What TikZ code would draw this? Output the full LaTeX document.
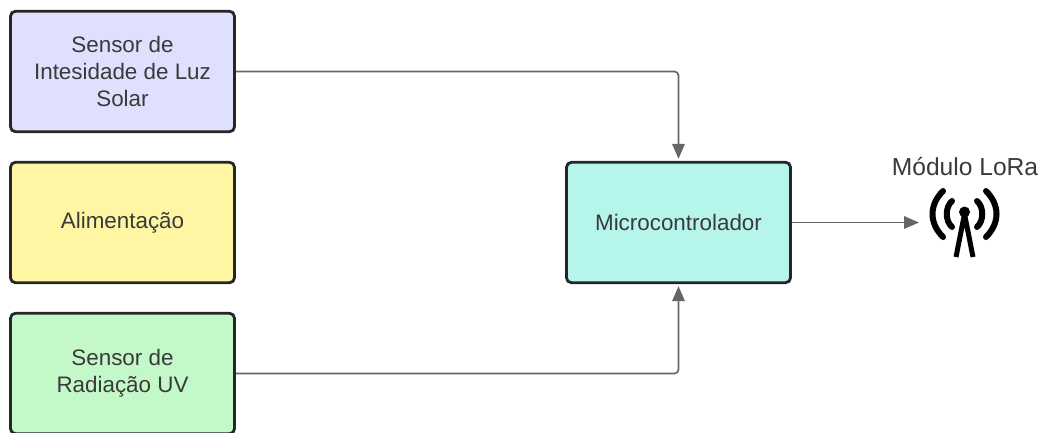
\documentclass[tikz,border=0pt]{standalone}
\usepackage{fontspec}
\setmainfont{Liberation Sans}
\usetikzlibrary{arrows.meta}
\definecolor{luzblue}{HTML}{DFE0FD}
\definecolor{powyellow}{HTML}{FFF6A4}
\definecolor{uvgreen}{HTML}{C3F8C8}
\definecolor{mcuteal}{HTML}{B6F5EC}
\definecolor{linegray}{HTML}{666666}
\definecolor{textgray}{HTML}{3A3A3A}
\tikzset{
  block/.style={draw=black!85,line width=2.8pt,rounded corners=5pt,minimum width=224pt,minimum height=120.5pt,
    align=center,text=textgray,font=\fontsize{22.4}{27}\selectfont,inner sep=0pt},
  link/.style={draw=linegray,line width=1.7pt,rounded corners=4pt,shorten >=2pt,-{Triangle[length=15pt,width=12.5pt]}},
  wave/.style={line width=6pt,line cap=round}
}
\begin{document}
\begin{tikzpicture}[x=1pt,y=-1pt]
\useasboundingbox (0,0) rectangle (1041,432);
\node [block,fill=luzblue] (luz) at (122.5,71.5) {Sensor de\\Intesidade de Luz\\Solar};
\node [block,fill=powyellow] (power) at (122.5,222.5) {Alimentação};
\node [block,fill=uvgreen] (uv) at (122.5,373.5) {Sensor de\\Radiação UV};
\node [block,fill=mcuteal] (mcu) at (678.5,222.5) {Microcontrolador};
\node [text=textgray,font=\fontsize{24.6}{27}\selectfont,inner sep=0pt] (lora) at (965,167) {Módulo LoRa};
\coordinate (antenna) at (921,222.5);
\draw [link] (luz) -| (mcu);
\draw [link] (uv) -| (mcu);
\draw [link,rounded corners=0pt] (mcu) -- (antenna);
% antenna
\fill (964.5,212) circle (5.5);
\draw [line width=5pt,line join=round] (956,257) -- (964.5,214) -- (973,257);
\draw [wave] (943,191) .. controls (929,205) and (929,223) .. (943,237);
\draw [wave] (986,191) .. controls (1000,205) and (1000,223) .. (986,237);
\draw [wave] (952,201) .. controls (945,207) and (945,221) .. (952,227);
\draw [wave] (977,201) .. controls (984,207) and (984,221) .. (977,227);
\end{tikzpicture}
\end{document}
